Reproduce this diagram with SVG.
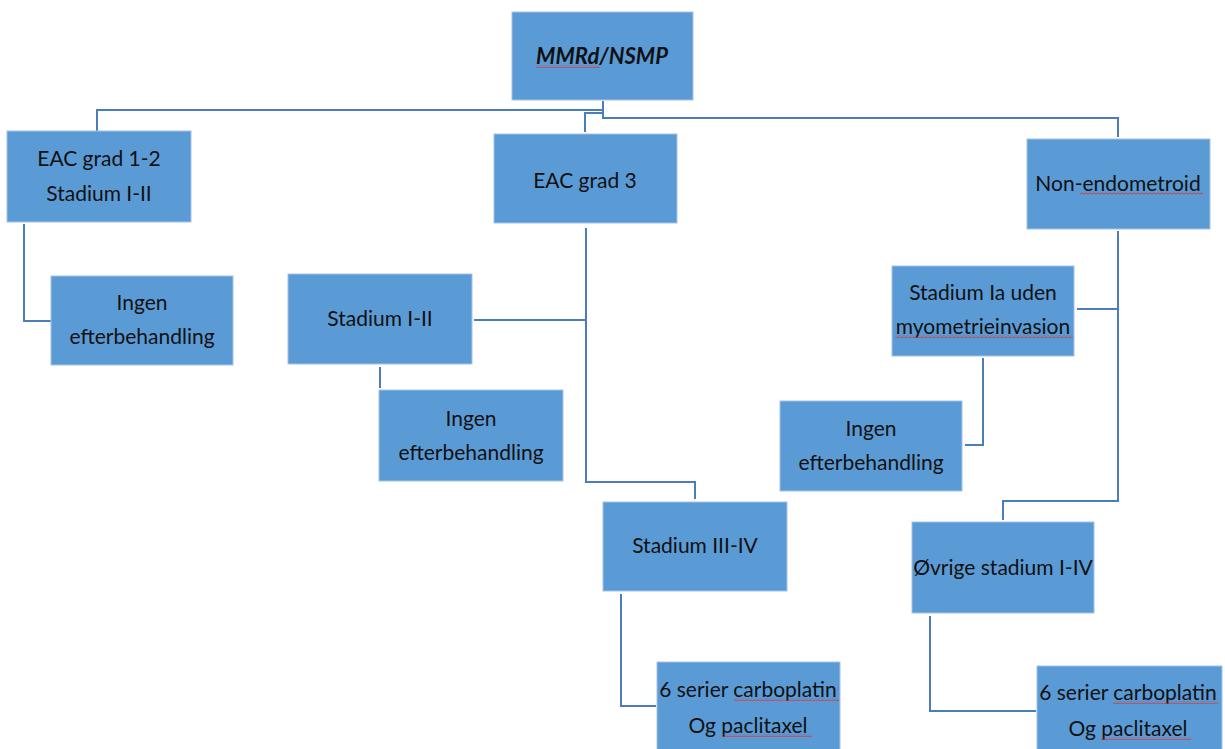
<svg xmlns="http://www.w3.org/2000/svg" width="1225" height="749" viewBox="0 0 1225 749">
<style>
.box{fill:#5B9BD5;stroke:#A4C2E6;stroke-width:1}
.t{font-family:Lato,"Open Sans","Liberation Sans",sans-serif;font-size:21px;fill:#111;text-anchor:middle}
.b{font-weight:bold;font-style:italic;font-size:22px}
.c{fill:none;stroke:#4A7EBB;stroke-width:2}
.sq{fill:url(#wave)}
</style>
<defs>
<pattern id="wave" x="0" y="0" width="4" height="3" patternUnits="userSpaceOnUse">
<path d="M0,2.2 L2,0.8 L4,2.2" fill="none" stroke="#E0302E" stroke-width="0.9"/>
</pattern>
</defs>
<rect width="1225" height="749" fill="#fff"/>
<g id="connectors">
<path class="c" d="M97,131 V110 H603"/>
<path class="c" d="M603,101 V118 H1118 V137"/>
<path class="c" d="M603,113 H585 V132"/>
<path class="c" d="M24,224 V321 H51"/>
<path class="c" d="M586,228 V482 H695 V499"/>
<path class="c" d="M474,320 H586"/>
<path class="c" d="M380,367 V388"/>
<path class="c" d="M621,594 V706 H656"/>
<path class="c" d="M1118,231 V501 H1003 V520"/>
<path class="c" d="M1077,309 H1118"/>
<path class="c" d="M983,358 V445 H965"/>
<path class="c" d="M930,616 V711 H1036"/>
</g>
<g id="n-top">
<rect class="box" x="512" y="12" width="181" height="88"/>
<text class="t b" x="602" y="64">MMRd/NSMP</text>
<rect class="sq" x="536" y="65" width="64" height="3"/>
</g>
<g id="n-eac12">
<rect class="box" x="7" y="131" width="184" height="91"/>
<text class="t" x="99" y="166">EAC grad 1-2</text>
<text class="t" x="99" y="201">Stadium I-II</text>
</g>
<g id="n-eac3">
<rect class="box" x="494" y="134" width="183" height="89"/>
<text class="t" x="585" y="188">EAC grad 3</text>
</g>
<g id="n-nonendo">
<rect class="box" x="1027" y="139" width="183" height="90"/>
<text class="t" x="1118" y="191">Non-endometroid</text>
<rect class="sq" x="1080" y="192" width="123" height="3"/>
</g>
<g id="n-ingen1">
<rect class="box" x="51" y="276" width="182" height="89"/>
<text class="t" x="142" y="310">Ingen</text>
<text class="t" x="142" y="344">efterbehandling</text>
</g>
<g id="n-stad12">
<rect class="box" x="288" y="274" width="184" height="90"/>
<text class="t" x="380" y="326">Stadium I-II</text>
</g>
<g id="n-ingen2">
<rect class="box" x="379" y="390" width="184" height="91"/>
<text class="t" x="471" y="426">Ingen</text>
<text class="t" x="471" y="460">efterbehandling</text>
</g>
<g id="n-stadIa">
<rect class="box" x="892" y="266" width="182" height="90"/>
<text class="t" x="983" y="300">Stadium Ia uden</text>
<text class="t" x="983" y="334">myometrieinvasion</text>
<rect class="sq" x="895" y="335" width="178" height="3"/>
</g>
<g id="n-ingen3">
<rect class="box" x="780" y="401" width="182" height="90"/>
<text class="t" x="871" y="436">Ingen</text>
<text class="t" x="871" y="470">efterbehandling</text>
</g>
<g id="n-stad34">
<rect class="box" x="603" y="502" width="184" height="89"/>
<text class="t" x="695" y="553">Stadium III-IV</text>
</g>
<g id="n-ovrige">
<rect class="box" x="912" y="522" width="182" height="91"/>
<text class="t" x="1003" y="575">Øvrige stadium I-IV</text>
</g>
<g id="n-chemo1">
<rect class="box" x="657" y="662" width="183" height="90"/>
<text class="t" x="748" y="697">6 serier carboplatin</text>
<text class="t" x="748" y="733">Og paclitaxel</text>
<rect class="sq" x="734" y="698" width="105" height="3"/>
<rect class="sq" x="722" y="734" width="90" height="3"/>
</g>
<g id="n-chemo2">
<rect class="box" x="1037" y="666" width="185" height="90"/>
<text class="t" x="1128" y="700">6 serier carboplatin</text>
<text class="t" x="1128" y="736">Og paclitaxel</text>
<rect class="sq" x="1113" y="701" width="105" height="3"/>
<rect class="sq" x="1101" y="737" width="90" height="3"/>
</g>
</svg>
